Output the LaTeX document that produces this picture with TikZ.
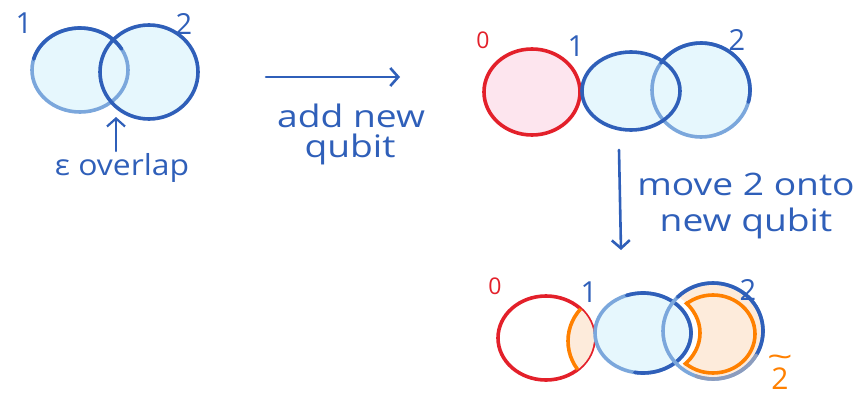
\documentclass[tikz,border=0pt]{standalone}
\usepackage{fontspec}
\usepackage{graphicx}
\setmainfont{Open Sans}
\usetikzlibrary{arrows.meta}
\definecolor{qblue}{HTML}{2F5FB9}
\definecolor{qlight}{HTML}{7BA7DC}
\definecolor{qfill}{HTML}{E6F7FD}
\definecolor{qred}{HTML}{E3202A}
\definecolor{qpink}{HTML}{FDE5EE}
\definecolor{qorange}{HTML}{FF8000}
\definecolor{qofill}{HTML}{FDEBDB}
\definecolor{qgray}{HTML}{8C9CBD}
\newcommand\myearc[7]{\draw[ring,#1] (#2,#3) ++({#4*cos(#6)},{#5*sin(#6)}) arc[start angle=#6,end angle=#7,x radius=#4,y radius=#5];}
\newcommand\wide[1]{\scalebox{1.2}[1]{#1}}
\tikzset{
  ring/.style={line width=3.6pt, line cap=round},
  lbl/.style={font=\fontsize{29}{32}\selectfont, text=qblue, inner sep=0pt},
  txt/.style={font=\fontsize{31}{34}\selectfont, text=qblue, inner sep=0pt, anchor=base},
  arr/.style={qblue, line width=2.6pt, line cap=round, -{Straight Barb[length=8pt,width=18pt]}}
}
\begin{document}
\begin{tikzpicture}[x=1pt,y=-1pt]
\path[use as bounding box] (0,0) rectangle (859,396);

% ---------- top-left: two qubits with epsilon overlap ----------
\fill[qfill] (80,70) ellipse [x radius=48, y radius=42];
\fill[qfill] (149,72) ellipse [x radius=49, y radius=47];
\draw[ring,qlight] (80,70) ellipse [x radius=48, y radius=42];
\myearc{qblue}{80}{70}{48}{42}{195}{330}
\draw[ring,qblue] (149,72) ellipse [x radius=49, y radius=47];
\node[lbl] (tl1) at (24,23) {1};
\node[lbl] (tl2) at (184,24) {2};
\node[txt,font=\fontsize{29}{32}\selectfont] (eps) at (122,175) {\scalebox{1.1}[1]{ε overlap}};
\coordinate (epsTip) at (116,117);
\draw[arr, line width=2.2pt] (116,151) -- (epsTip);

% ---------- arrow: add new qubit ----------
\coordinate (a1s) at (266,77);
\coordinate (a1e) at (400,77);
\draw[arr] (a1s) -- (a1e);
\node[txt] (addnew) at (351,127) {\wide{add new}};
\node[txt] (qubitA) at (350,157) {\wide{qubit}};

% ---------- top-right: three qubits ----------
\fill[qpink] (532,92) ellipse [x radius=48, y radius=43];
\draw[ring,qred] (532,92) ellipse [x radius=48, y radius=43];
\fill[qfill] (631,91) ellipse [x radius=49, y radius=39];
\fill[qfill] (701,90) ellipse [x radius=49, y radius=47];
\draw[ring,qlight] (701,90) ellipse [x radius=49, y radius=47];
\myearc{qblue}{701}{90}{49}{47}{215}{375}
\draw[ring,qblue] (631,91) ellipse [x radius=49, y radius=39];
\node[lbl,text=qred,font=\fontsize{23}{26}\selectfont] (tr0) at (483,40) {0};
\node[lbl] (tr1) at (576,46) {1};
\node[lbl] (tr2) at (737,40) {2};

% ---------- arrow: move 2 onto new qubit ----------
\coordinate (a2s) at (619,150);
\coordinate (a2e) at (621,250);
\draw[arr] (a2s) -- (a2e);
\node[txt] (move) at (746,195) {\wide{move 2 onto}};
\node[txt] (newq) at (746,231) {\wide{new qubit}};

% ---------- bottom: qubit 2 moved ----------
\draw[ring,qred] (546,338) ellipse [x radius=48, y radius=42];
\begin{scope}
  \clip (546,338) ellipse [x radius=48, y radius=42];
  \fill[qofill] (622,341) ellipse [x radius=54, y radius=50];
  \draw[ring,qorange] (622,341) ellipse [x radius=54, y radius=50];
\end{scope}
\begin{scope}
  \clip (713,331) ellipse [x radius=50, y radius=48];
  \fill[qofill] (713,331) ellipse [x radius=50, y radius=48];
  \draw[ring,qorange] (713,334) ellipse [x radius=42, y radius=39];
  \fill[white] (643,333) ellipse [x radius=57, y radius=46];
  \begin{scope}
    \clip (713,334) ellipse [x radius=44, y radius=41];
    \draw[ring,qorange] (643,333) ellipse [x radius=57, y radius=46];
  \end{scope}
\end{scope}
\fill[qfill] (643,333) ellipse [x radius=48, y radius=40];
\draw[ring,qlight] (643,333) ellipse [x radius=48, y radius=40];
\myearc{qblue}{643}{333}{48}{40}{250}{460}
\draw[ring,qlight] (713,331) ellipse [x radius=50, y radius=48];
\myearc{qblue}{713}{331}{50}{48}{225}{390}
\myearc{qgray}{713}{331}{50}{48}{30}{110}
\node[lbl,text=qred,font=\fontsize{23}{26}\selectfont] (b0) at (495,286) {0};
\node[lbl] (b1) at (589,292) {1};
\node[lbl] (b2) at (748,290) {2};
\node[lbl,text=qorange,font=\fontsize{30}{34}\selectfont,anchor=base] (b2t) at (780,389) {\shortstack{\scalebox{1.5}[1]{\textasciitilde}\\[-3pt]2}};
\end{tikzpicture}
\end{document}
